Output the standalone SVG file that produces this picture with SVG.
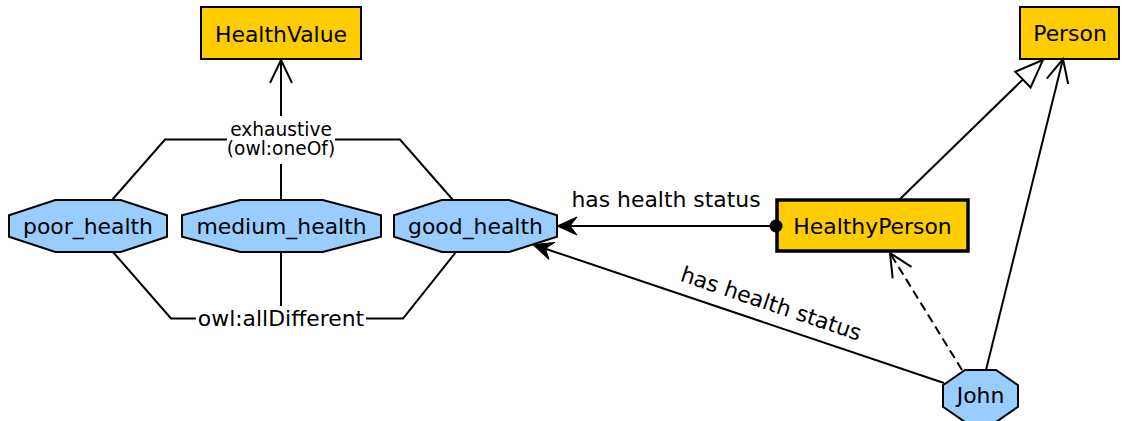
<svg xmlns="http://www.w3.org/2000/svg" width="1124" height="421" viewBox="0 0 1124 421">
<style>
.cls{fill:#FFCC00;stroke:#000;stroke-width:2}
.cls2{fill:#FFCC00;stroke:#000;stroke-width:3.5}
.ind{fill:#99CCFF;stroke:#000;stroke-width:2}
.t{font-family:"DejaVu Sans",sans-serif;font-size:21.9px;fill:#000;text-anchor:middle}
.ts{font-family:"DejaVu Sans",sans-serif;font-size:18.6px;fill:#000;text-anchor:middle}
.e{fill:none;stroke:#000;stroke-width:2}
.d{stroke-dasharray:9 5}
</style>
<defs>
<marker id="fv" markerUnits="userSpaceOnUse" markerWidth="22" markerHeight="20" refX="7" refY="9" orient="auto" overflow="visible">
<path d="M0,0 L20,9 L0,18 L7,9 Z" fill="#000" stroke="#000" stroke-width="1"/>
</marker>
<marker id="ov" markerUnits="userSpaceOnUse" markerWidth="26" markerHeight="24" refX="23" refY="11" orient="auto" overflow="visible">
<path d="M0,0 L23,11 L0,22" fill="none" stroke="#000" stroke-width="2"/>
</marker>
<marker id="tri" markerUnits="userSpaceOnUse" markerWidth="30" markerHeight="24" refX="0" refY="11" orient="auto" overflow="visible">
<path d="M0,0 L28,11 L0,22 Z" fill="#fff" stroke="#000" stroke-width="2"/>
</marker>
</defs>
<rect width="1124" height="421" fill="#fff"/>
<g id="HealthValue">
<rect class="cls" x="201" y="7" width="160" height="52"/>
<text class="t" x="281" y="41.5">HealthValue</text>
</g>
<g id="Person">
<rect class="cls" x="1020" y="7" width="99" height="52"/>
<text class="t" x="1070" y="41">Person</text>
</g>
<g id="HealthyPerson">
<rect class="cls2" x="777" y="200" width="191" height="51"/>
<text class="t" x="872.5" y="234">HealthyPerson</text>
</g>
<g id="poor_health">
<polygon class="ind" points="55.3,200 120.7,200 167,215.2 167,236.8 120.7,252 55.3,252 9,236.8 9,215.2"/>
<text class="t" x="88" y="234">poor_health</text>
</g>
<g id="medium_health">
<polygon class="ind" points="240.3,200 322.7,200 381,215.2 381,236.8 322.7,252 240.3,252 182,236.8 182,215.2"/>
<text class="t" x="281.5" y="234">medium_health</text>
</g>
<g id="good_health">
<polygon class="ind" points="441.8,200 509.2,200 557,215.2 557,236.8 509.2,252 441.8,252 394,236.8 394,215.2"/>
<text class="t" x="475.5" y="234">good_health</text>
</g>
<g id="John">
<polygon class="ind" points="965,370 996,370 1018,385.2 1018,406.8 996,422 965,422 943,406.8 943,385.2"/>
<text class="t" x="980.5" y="403">John</text>
</g>
<g id="connectors">
<path class="e" d="M281,116 L281,60" marker-end="url(#ov)"/>
<path class="e" d="M281,200 L281,164"/>
<path class="e" d="M112,200 L165,139.5 L227,139.5"/>
<path class="e" d="M335,139.5 L400,139.5 L453,200"/>
<text class="ts" x="281" y="136">exhaustive</text>
<text class="ts" x="281" y="155">(owl:oneOf)</text>
<path class="e" d="M113,252 L171,318.5 L196,318.5"/>
<path class="e" d="M366,318.5 L403,318.5 L456,252"/>
<path class="e" d="M281,252 L281,306"/>
<text class="t" x="281" y="325.5">owl:allDifferent</text>
<path class="e" d="M776,226 L570,226" marker-end="url(#fv)"/>
<circle cx="776" cy="226" r="6.5" fill="#000"/>
<text class="t" x="666" y="207">has health status</text>
<path class="e" d="M944,383 L545.3,248.7" marker-end="url(#fv)"/>
<text class="t" transform="translate(771,304) rotate(18.6)" x="0" y="7">has health status</text>
<path class="e d" d="M962,370 L890,253" marker-end="url(#ov)"/>
<path class="e" d="M986,370 L1063,59" marker-end="url(#ov)"/>
<path class="e" d="M900,199 L1022.9,79.5" marker-end="url(#tri)"/>
</g>
</svg>
